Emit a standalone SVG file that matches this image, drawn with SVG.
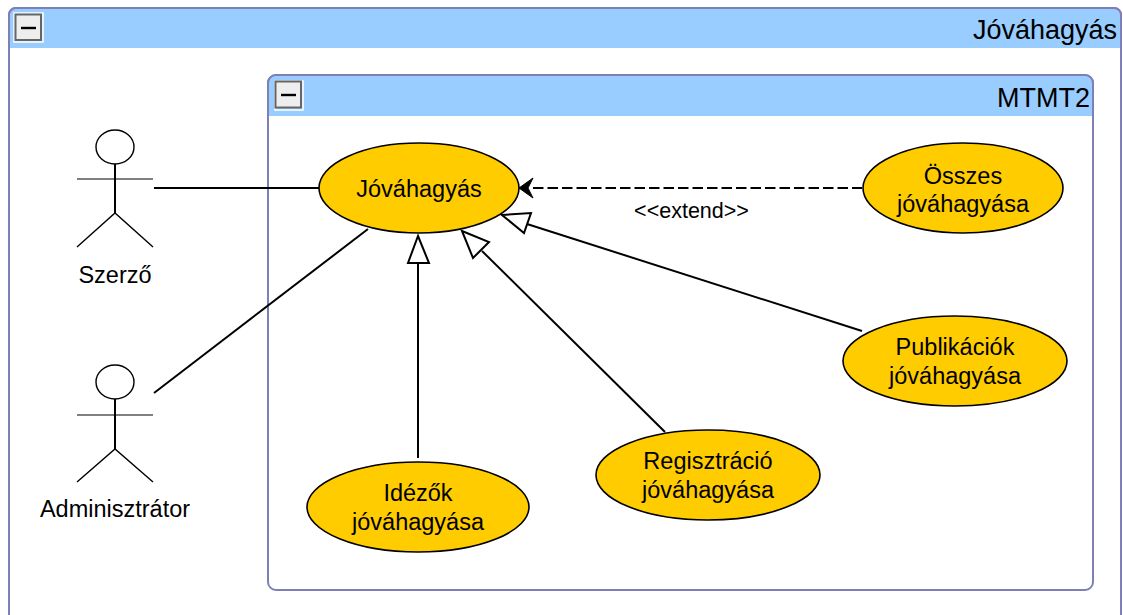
<svg xmlns="http://www.w3.org/2000/svg" width="1123" height="615" viewBox="0 0 1123 615">
<style>
text{font-family:"Liberation Sans",Arial,sans-serif;fill:#000}
.frame{fill:#fff;stroke:#7f7fb5;stroke-width:2}
.head{fill:#99ccff}
.btn{fill:#eeeeee;stroke:#666;stroke-width:2}
.halo{fill:none;stroke:#fff;stroke-width:1.5}
.minus{stroke:#000;stroke-width:2.4}
.uc{fill:#ffcc00;stroke:#000;stroke-width:1.6}
.lbl{font-size:23.500px;text-anchor:middle}
.ttl{font-size:27px;text-anchor:end}
.act{fill:none;stroke:#000;stroke-width:1.4}
.arm{fill:none;stroke:#000;stroke-width:1}
.ln{fill:none;stroke:#000;stroke-width:2}
.tri{fill:#fff;stroke:#000;stroke-width:2}
</style>
<g id="frame-jovahagyas">
<rect class="frame" x="9" y="8" width="1112" height="620" rx="7"/>
<path class="head" d="M10 48V15a6 6 0 0 1 6-6H1114a6 6 0 0 1 6 6V48Z"/>
<path d="M9 48V15a7 7 0 0 1 7-7H1114a7 7 0 0 1 7 7V48" fill="none" stroke="#7f7fb5" stroke-width="2"/>
<rect class="halo" x="14" y="13" width="29" height="29"/>
<rect class="btn" x="15.500" y="14.500" width="25.500" height="25.500"/>
<line class="minus" x1="21" y1="28" x2="36" y2="28"/>
<text class="ttl" x="1117" y="39">Jóváhagyás</text>
</g>
<g id="frame-mtmt2">
<rect class="frame" x="268" y="75" width="825" height="515" rx="8"/>
<path class="head" d="M269 116V82a6 6 0 0 1 6-6H1086a6 6 0 0 1 6 6V116Z"/>
<path d="M268 116V83a8 8 0 0 1 8-8H1085a8 8 0 0 1 8 8V116" fill="none" stroke="#7f7fb5" stroke-width="2"/>
<rect class="halo" x="275" y="81" width="28" height="29"/>
<rect class="btn" x="275.500" y="81.500" width="25.500" height="26"/>
<line class="minus" x1="281" y1="95" x2="296" y2="95"/>
<text class="ttl" x="1090" y="107">MTMT2</text>
</g>
<g id="connectors">
<line class="ln" x1="154" y1="188" x2="319" y2="188"/>
<line class="ln" x1="154" y1="393" x2="368" y2="229"/>
<line class="ln" x1="533" y1="188" x2="862" y2="188" stroke-dasharray="10.500 4"/>
<path d="M519 188L533 178L528 188L533 198Z" fill="#000" stroke="#000" stroke-width="1"/>
<line class="ln" x1="418" y1="458" x2="418" y2="263"/>
<path class="tri" d="M418 236L429 263H408Z"/>
<line class="ln" x1="665" y1="432" x2="482" y2="251"/>
<path class="tri" d="M462 231L489 242L473 258Z"/>
<line class="ln" x1="862" y1="331" x2="527" y2="224"/>
<path class="tri" d="M502 215L531 213L524 233Z"/>
<text x="691.500" y="218" font-size="21.500" text-anchor="middle">&lt;&lt;extend&gt;&gt;</text>
</g>
<g id="actor-szerzo">
<ellipse class="act" cx="115" cy="147" rx="19" ry="17"/>
<line class="ln" x1="115" y1="164" x2="115" y2="213"/>
<line class="arm" x1="77" y1="179" x2="153" y2="179"/>
<path class="act" d="M77 247L115 213L153 247"/>
<text class="lbl" x="115" y="283">Szerző</text>
</g>
<g id="actor-adminisztrator">
<ellipse class="act" cx="115" cy="382" rx="19" ry="17"/>
<line class="ln" x1="115" y1="399" x2="115" y2="449"/>
<line class="arm" x1="77" y1="415" x2="153" y2="415"/>
<path class="act" d="M77 482L115 449L153 482"/>
<text class="lbl" x="115" y="517">Adminisztrátor</text>
</g>
<g id="uc-jovahagyas">
<ellipse class="uc" cx="419" cy="188" rx="100" ry="45"/>
<text class="lbl" x="419" y="197">Jóváhagyás</text>
</g>
<g id="uc-osszes">
<ellipse class="uc" cx="963" cy="188" rx="100" ry="45"/>
<text class="lbl" x="963" y="184">Összes</text>
<text class="lbl" x="963" y="212">jóváhagyása</text>
</g>
<g id="uc-publikaciok">
<ellipse class="uc" cx="955" cy="361" rx="112" ry="45"/>
<text class="lbl" x="955" y="355">Publikációk</text>
<text class="lbl" x="955" y="384">jóváhagyása</text>
</g>
<g id="uc-regisztracio">
<ellipse class="uc" cx="708" cy="475" rx="112" ry="45"/>
<text class="lbl" x="708" y="469">Regisztráció</text>
<text class="lbl" x="708" y="498">jóváhagyása</text>
</g>
<g id="uc-idezok">
<ellipse class="uc" cx="418" cy="507" rx="111" ry="45"/>
<text class="lbl" x="418" y="501">Idézők</text>
<text class="lbl" x="418" y="530">jóváhagyása</text>
</g>
</svg>
